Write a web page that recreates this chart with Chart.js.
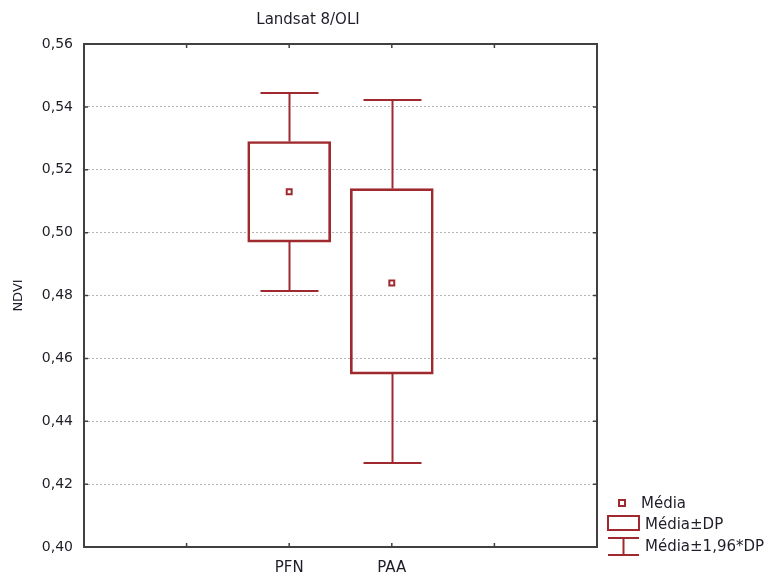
<!DOCTYPE html>
<html>
<head>
<meta charset="utf-8">
<script src="https://cdn.jsdelivr.net/npm/chart.js@4.4.1/dist/chart.umd.min.js"></script>
<style>
  html, body { margin: 0; padding: 0; background: #fff; }
  #wrap { width: 771px; height: 573px; position: relative; }
</style>
</head>
<body>
<div id="wrap"><canvas id="boxChart"></canvas></div>
<script>
// x positions 0..5, groups sit on positions 2 and 3
const slots = ['', '', 'PFN', 'PAA', '', ''];
const groups = ['PFN', 'PAA'];
const means = [0.513, 0.484];
const boxLow = [0.497, 0.455];
const boxHigh = [0.529, 0.514];
const whiskLow = [0.4815, 0.4267];
const whiskHigh = [0.5445, 0.5422];
const yTicks = [0.40, 0.42, 0.44, 0.46, 0.48, 0.50, 0.52, 0.54, 0.56];

const red = '#9E2A2F';
const frame = '#404040';
const ink = '#1e1e28';
const font = "'DejaVu Sans', Verdana, sans-serif";

const boxData = slots.map(s => {
    const i = groups.indexOf(s);
    return i < 0 ? null : [boxLow[i], boxHigh[i]];
});
const meanData = slots.map(s => {
    const i = groups.indexOf(s);
    return i < 0 ? null : means[i];
});

const extras = {
    id: 'extras',
    afterDatasetsDraw(chart) {
        const { ctx, chartArea: a, scales: { x, y } } = chart;
        ctx.save();
        // whiskers
        ctx.strokeStyle = red;
        ctx.lineWidth = 2;
        groups.forEach((g, i) => {
            const px = Math.round(x.getPixelForValue(slots.indexOf(g))) + 0.5;
            const segs = [[boxHigh[i], whiskHigh[i]], [boxLow[i], whiskLow[i]]];
            segs.forEach(([from, to]) => {
                const ty = Math.round(y.getPixelForValue(to));
                ctx.beginPath();
                ctx.moveTo(px, y.getPixelForValue(from));
                ctx.lineTo(px, ty);
                ctx.moveTo(px - 29, ty);
                ctx.lineTo(px + 29, ty);
                ctx.stroke();
            });
        });
        // frame
        ctx.strokeStyle = frame;
        ctx.lineWidth = 2;
        ctx.strokeRect(a.left, a.top, a.right - a.left, a.bottom - a.top);
        // inward ticks
        ctx.lineWidth = 1.5;
        ctx.beginPath();
        yTicks.forEach(v => {
            const py = y.getPixelForValue(v);
            ctx.moveTo(a.left, py); ctx.lineTo(a.left + 4, py);
            ctx.moveTo(a.right, py); ctx.lineTo(a.right - 4, py);
        });
        for (let k = 1; k < slots.length - 1; k++) {
            const px = x.getPixelForValue(k);
            ctx.moveTo(px, a.top); ctx.lineTo(px, a.top + 4);
            ctx.moveTo(px, a.bottom); ctx.lineTo(px, a.bottom - 4);
        }
        ctx.stroke();
        // title
        ctx.fillStyle = ink;
        ctx.font = '15px ' + font;
        ctx.textAlign = 'center';
        ctx.textBaseline = 'middle';
        ctx.fillText('Landsat 8/OLI', 308, 20);
        // legend
        ctx.strokeStyle = red;
        ctx.lineWidth = 2;
        ctx.fillStyle = '#fff';
        ctx.fillRect(619, 500, 6, 6);
        ctx.strokeRect(619, 500, 6, 6);
        ctx.strokeRect(608, 516, 31, 14);
        ctx.beginPath();
        ctx.moveTo(608, 538); ctx.lineTo(639, 538);
        ctx.moveTo(623.5, 538); ctx.lineTo(623.5, 555);
        ctx.moveTo(608, 555); ctx.lineTo(639, 555);
        ctx.stroke();
        ctx.fillStyle = ink;
        ctx.font = '15px ' + font;
        ctx.textAlign = 'left';
        ctx.fillText('Média', 641, 504);
        ctx.fillText('Média±DP', 645, 525);
        ctx.fillText('Média±1,96*DP', 645, 547);
        ctx.restore();
    }
};

new Chart(document.getElementById('boxChart'), {
    data: {
        labels: slots,
        datasets: [{
            type: 'line',
            label: 'Média',
            data: meanData,
            showLine: false,
            pointStyle: 'rect',
            pointRadius: 3.5,
            pointBorderWidth: 2,
            pointBorderColor: red,
            pointBackgroundColor: '#fff',
            order: 0
        }, {
            type: 'bar',
            label: 'Média±DP',
            data: boxData,
            backgroundColor: 'rgba(255,255,255,0)',
            borderColor: red,
            borderWidth: 2,
            borderSkipped: false,
            barThickness: 83,
            order: 1
        }]
    },
    options: {
        responsive: true,
        maintainAspectRatio: false,
        animation: false,
        layout: { padding: { top: 44, right: 174, left: 11, bottom: 0 } },
        plugins: {
            legend: { display: false },
            tooltip: { enabled: false }
        },
        scales: {
            x: {
                type: 'category',
                offset: false,
                grid: { display: false },
                border: { display: false },
                ticks: {
                    color: ink,
                    font: { size: 15, family: font },
                    padding: 4,
                    autoSkip: false,
                    maxRotation: 0
                },
                afterFit(s) { s.height = 26; }
            },
            y: {
                min: 0.40,
                max: 0.56,
                border: { display: false, dash: [2, 2] },
                grid: {
                    color: '#b4b4b4',
                    lineWidth: 1,
                    drawTicks: false
                },
                ticks: {
                    stepSize: 0.02,
                    color: ink,
                    font: { size: 14, family: font },
                    padding: 11,
                    callback: v => v.toFixed(2).replace('.', ',')
                },
                title: {
                    display: true,
                    text: 'NDVI',
                    color: ink,
                    font: { size: 13, family: font },
                    padding: { top: 0, bottom: 0 }
                },
                afterFit(s) { s.width = 73; }
            }
        }
    },
    plugins: [extras]
});
</script>
</body>
</html>
